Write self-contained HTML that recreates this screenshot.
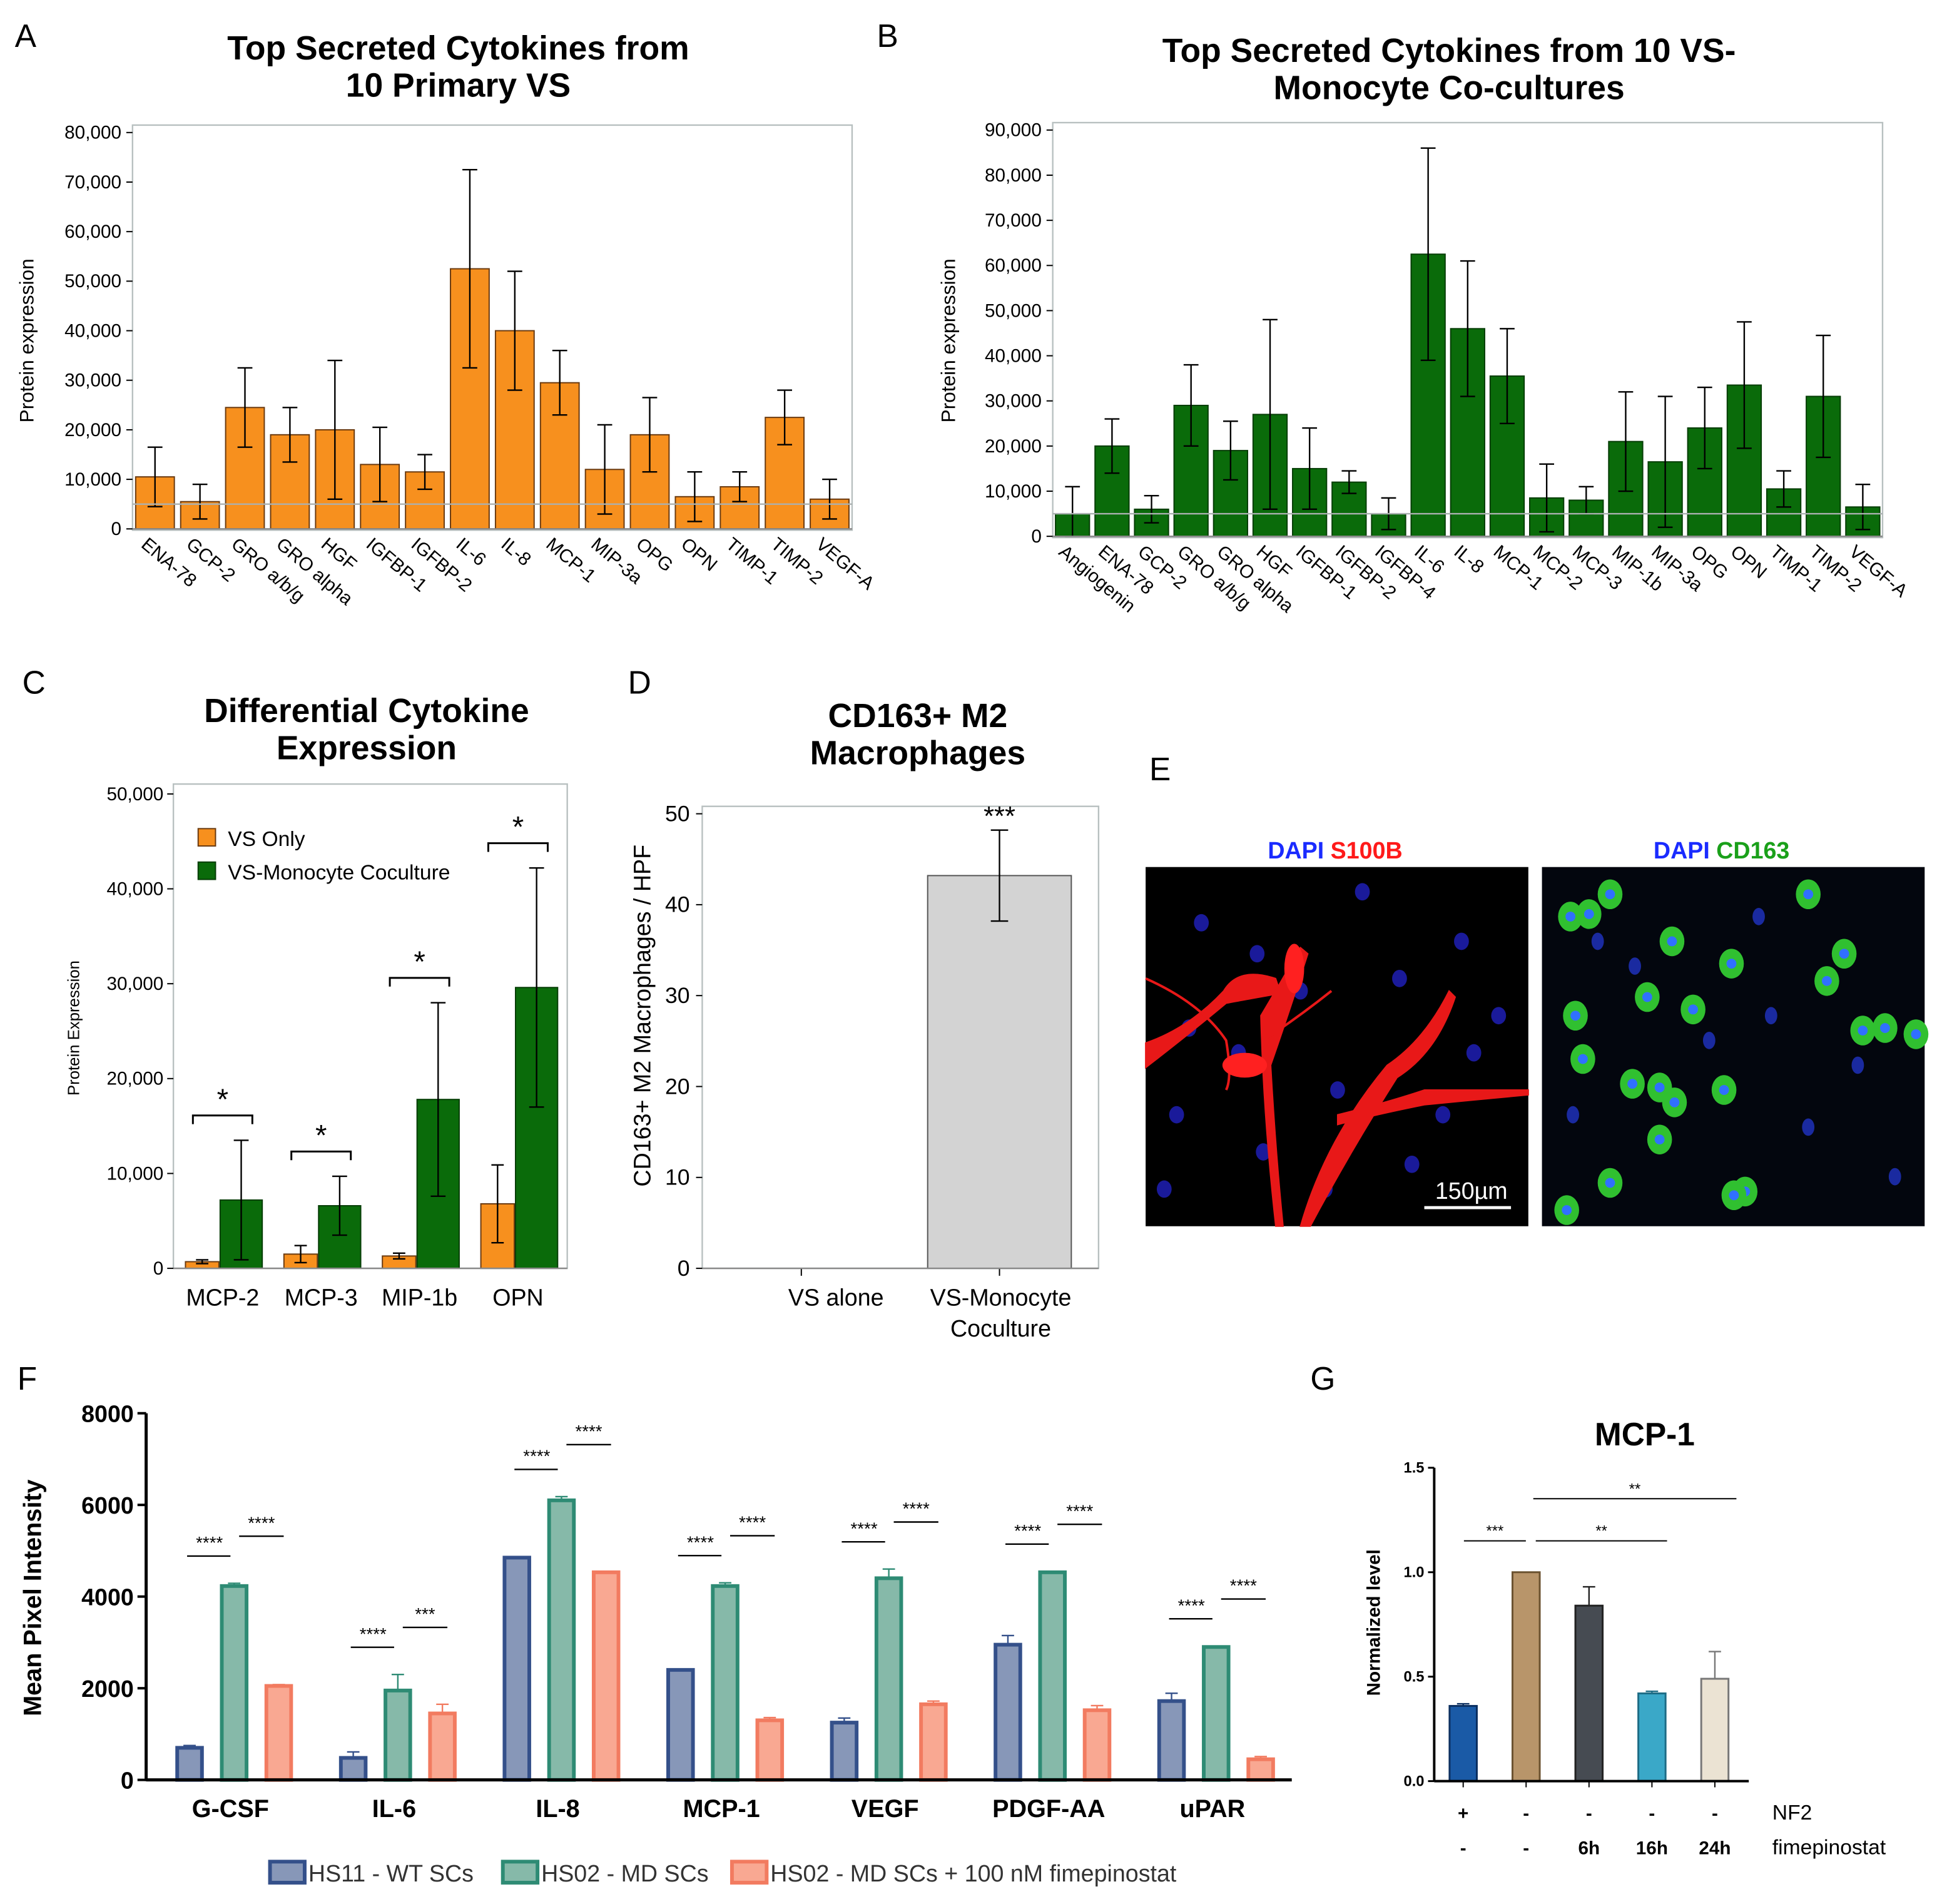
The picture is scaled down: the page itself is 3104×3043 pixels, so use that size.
<!DOCTYPE html>
<html><head><meta charset="utf-8">
<style>
html,body{margin:0;padding:0;background:#fff;}
svg{display:block;font-family:"Liberation Sans",Arial,sans-serif;}
</style></head>
<body>
<svg id="fig" width="3104" height="3043" viewBox="0 0 1568 1537.2" preserveAspectRatio="none" xmlns="http://www.w3.org/2000/svg"></svg>
<script>
// ---- Panel A data ----
const aCats = ["ENA-78","GCP-2","GRO a/b/g","GRO alpha","HGF","IGFBP-1","IGFBP-2","IL-6","IL-8","MCP-1","MIP-3a","OPG","OPN","TIMP-1","TIMP-2","VEGF-A"];
const aVals = [10500,5500,24500,19000,20000,13000,11500,52500,40000,29500,12000,19000,6500,8500,22500,6000];
const aErrTop = [16500,9000,32500,24500,34000,20500,15000,72500,52000,36000,21000,26500,11500,11500,28000,10000];
const aTicks = [0,10000,20000,30000,40000,50000,60000,70000,80000];
// ---- Panel B data ----
const bCats = ["Angiogenin","ENA-78","GCP-2","GRO a/b/g","GRO alpha","HGF","IGFBP-1","IGFBP-2","IGFBP-4","IL-6","IL-8","MCP-1","MCP-2","MCP-3","MIP-1b","MIP-3a","OPG","OPN","TIMP-1","TIMP-2","VEGF-A"];
const bVals = [5000,20000,6000,29000,19000,27000,15000,12000,5000,62500,46000,35500,8500,8000,21000,16500,24000,33500,10500,31000,6500];
const bErrTop = [11000,26000,9000,38000,25500,48000,24000,14500,8500,86000,61000,46000,16000,11000,32000,31000,33000,47500,14500,44500,11500];
const bTicks = [0,10000,20000,30000,40000,50000,60000,70000,80000,90000];
// ---- Panel C data ----
const cCats = ["MCP-2","MCP-3","MIP-1b","OPN"];
const cVS = [700,1500,1300,6800];
const cVSErr = [900,2400,1600,10900];
const cCo = [7200,6600,17800,29600];
const cCoErr = [13500,9700,28000,42200];
const cTicks = [0,10000,20000,30000,40000,50000];
// ---- Panel D data ----
const dCats = ["VS alone","VS-Monocyte Coculture"];
const dVals = [0,43.2];
const dErr = [0,5];
const dTicks = [0,10,20,30,40,50];
// ---- Panel F data ----
const fCats = ["G-CSF","IL-6","IL-8","MCP-1","VEGF","PDGF-AA","uPAR"];
const fWT = [700,480,4850,2400,1250,2950,1720];
const fWTErr = [50,130,20,20,100,200,170];
const fMD = [4230,1950,6100,4230,4400,4530,2900];
const fMDErr = [60,350,80,70,200,20,20];
const fFim = [2050,1450,4530,1300,1650,1520,450];
const fFimErr = [30,200,20,60,70,100,60];
const fTicks = [0,2000,4000,6000,8000];
// ---- Panel G data ----
const gVals = [0.36,1.0,0.84,0.42,0.49];
const gErr = [0.01,0,0.09,0.01,0.13];
const gNF2 = ["+","-","-","-","-"];
const gFim = ["-","-","6h","16h","24h"];
const gTicks = [0,0.5,1.0,1.5];

const NS="http://www.w3.org/2000/svg";
const svg=document.getElementById('fig');
function mk(tag,attrs,name,inter,parent){
  const el=document.createElementNS(NS,tag);
  for(const k in attrs) el.setAttribute(k,attrs[k]);
  
  
  (parent||svg).appendChild(el);return el;
}
function txt(x,y,s,size,name,extra){
  const a=Object.assign({x:x,y:y,'font-size':size,fill:'#000'},extra||{});
  const t=mk('text',a,name,false);t.textContent=s;return t;
}
function fmt(v){return v.toLocaleString('en-US');}
function errbar(x,y1,y2,w,name,col){
  col=col||'#000';
  mk('line',{x1:x,x2:x,y1:y1,y2:y2,stroke:col,'stroke-width':1.2},name,false);
  mk('line',{x1:x-w,x2:x+w,y1:y1,y2:y1,stroke:col,'stroke-width':1.2},name+'-cap-top',false);
  mk('line',{x1:x-w,x2:x+w,y1:y2,y2:y2,stroke:col,'stroke-width':1.2},name+'-cap-bottom',false);
}

function barPanel(p){
  const y=v=>p.y0-(v/p.max)*(p.y0-p.yTop);
  const band=(p.x1-p.x0)/p.cats.length;
  const x=i=>p.x0+band*(i+0.5);
  mk('rect',{x:p.x0,y:p.frameTop,width:p.x1-p.x0,height:p.y0-p.frameTop+1,fill:'none',stroke:'#b8c0c0','stroke-width':1.2},p.id+'-plot-frame',false);
  p.ticks.forEach(t=>{
    mk('line',{x1:p.x0-5,x2:p.x0,y1:y(t),y2:y(t),stroke:'#000','stroke-width':1},p.id+'-y-tick',false);
    txt(p.x0-9,y(t)+5,fmt(t),15,p.id+'-y-tick-label',{'text-anchor':'end'});
  });
  p.cats.forEach((c,i)=>{
    const bw=band*0.86;
    mk('rect',{x:x(i)-bw/2,y:y(p.vals[i]),width:bw,height:p.y0-y(p.vals[i]),fill:p.fill,stroke:p.stroke,'stroke-width':1},p.id+'-bar-'+c,false);
    const lo=Math.max(0,2*p.vals[i]-p.err[i]);
    errbar(x(i),y(p.err[i]),y(lo),6,p.id+'-error-bar-'+c);
    txt(x(i)-12,p.y0+14,c,15,p.id+'-x-label-'+c,{transform:`rotate(40 ${x(i)-12} ${p.y0+14})`});
  });
  mk('line',{x1:p.x0,x2:p.x1,y1:y(5000),y2:y(5000),stroke:'#aab0b0','stroke-width':1.2},p.id+'-threshold-line',false);
  mk('line',{x1:p.x0,x2:p.x1,y1:p.y0,y2:p.y0,stroke:'#888','stroke-width':1.2},p.id+'-x-axis',false);
  txt(p.ylabX,p.ylabY,'Protein expression',16,p.id+'-y-axis-title',{'text-anchor':'middle',transform:`rotate(-90 ${p.ylabX} ${p.ylabY})`});
}
const letters=[['A',12,38],['B',708,38],['C',18,560],['D',507,560],['E',928,630],['F',14,1122],['G',1058,1122]];
letters.forEach(l=>txt(l[1],l[2],l[0],26,'panel-letter-'+l[0]));
function title(lines,cx,y0,size,id){lines.forEach((s,i)=>txt(cx,y0+i*30,s,size,id+'-title-line'+(i+1),{'text-anchor':'middle','font-weight':'bold'}));}
title(['Top Secreted Cytokines from','10 Primary VS'],370,48,27,'a');
title(['Top Secreted Cytokines from 10 VS-','Monocyte Co-cultures'],1170,50,27,'b');
title(['Differential Cytokine','Expression'],296,583,27,'c');
title(['CD163+ M2','Macrophages'],741,587,27,'d');

barPanel({id:'a',cats:aCats,vals:aVals,err:aErrTop,ticks:aTicks,max:80000,x0:107,x1:688,y0:427,yTop:107,frameTop:101,fill:'#f7901e',stroke:'#6a3a10',ylabX:27,ylabY:275});
barPanel({id:'b',cats:bCats,vals:bVals,err:bErrTop,ticks:bTicks,max:90000,x0:850,x1:1520,y0:433,yTop:105,frameTop:99,fill:'#0a6b0a',stroke:'#063d06',ylabX:771,ylabY:275});

(function(){
  const x0=140,x1=458,y0=1024,yTop=641;
  const y=v=>y0-(v/50000)*(y0-yTop);
  const band=(x1-x0)/cCats.length;
  mk('rect',{x:x0,y:633,width:x1-x0,height:y0-633,fill:'none',stroke:'#b8c0c0','stroke-width':1.2},'c-plot-frame',false);
  cTicks.forEach(t=>{mk('line',{x1:x0-5,x2:x0,y1:y(t),y2:y(t),stroke:'#000'},'c-y-tick',false);
    txt(x0-8,y(t)+5,fmt(t),15,'c-y-tick-label',{'text-anchor':'end'});});
  cCats.forEach((c,i)=>{
    const cx=x0+band*(i+0.5);
    mk('rect',{x:cx-30,y:y(cVS[i]),width:27,height:y0-y(cVS[i]),fill:'#f7901e',stroke:'#6a3a10'},'c-bar-vs-'+c,false);
    errbar(cx-16.5,y(cVSErr[i]),y(Math.max(0,2*cVS[i]-cVSErr[i])),5,'c-error-vs-'+c);
    mk('rect',{x:cx-2,y:y(cCo[i]),width:34,height:y0-y(cCo[i]),fill:'#0a6b0a',stroke:'#063d06'},'c-bar-coculture-'+c,false);
    errbar(cx+15,y(cCoErr[i]),y(Math.max(0,2*cCo[i]-cCoErr[i])),6,'c-error-coculture-'+c);
    const by=y(cCoErr[i])-20;
    mk('path',{d:`M${cx-24} ${by+7}V${by}H${cx+24}V${by+7}`,fill:'none',stroke:'#000','stroke-width':1.5},'c-significance-bracket-'+c,false);
    txt(cx,by-5,'*',24,'c-significance-star-'+c,{'text-anchor':'middle'});
    txt(cx,y0+30,c,19,'c-x-label-'+c,{'text-anchor':'middle'});
  });
  mk('line',{x1:x0,x2:x1,y1:y0,y2:y0,stroke:'#888','stroke-width':1.2},'c-x-axis',false);
  mk('rect',{x:160,y:669,width:14,height:14,fill:'#f7901e',stroke:'#6a3a10'},'c-legend-swatch-vs',false);
  txt(184,683,'VS Only',17,'c-legend-label-vs');
  mk('rect',{x:160,y:696,width:14,height:14,fill:'#0a6b0a',stroke:'#063d06'},'c-legend-swatch-coculture',false);
  txt(184,710,'VS-Monocyte Coculture',17,'c-legend-label-coculture');
  txt(64,830,'Protein Expression',13,'c-y-axis-title',{'text-anchor':'middle',transform:'rotate(-90 64 830)'});
})();

(function(){
  const x0=567,x1=887,y0=1024,yTop=657;
  const y=v=>y0-(v/50)*(y0-yTop);
  mk('rect',{x:x0,y:651,width:x1-x0,height:y0-651,fill:'none',stroke:'#b8c0c0','stroke-width':1.2},'d-plot-frame',false);
  dTicks.forEach(t=>{mk('line',{x1:x0-5,x2:x0,y1:y(t),y2:y(t),stroke:'#000'},'d-y-tick',false);
    txt(x0-10,y(t)+6,String(t),18,'d-y-tick-label',{'text-anchor':'end'});});
  const band=(x1-x0)/2;
  dCats.forEach((c,i)=>{
    const cx=x0+band*(i+0.5);
    mk('line',{x1:cx,x2:cx,y1:y0,y2:y0+6,stroke:'#000'},'d-x-tick',false);
    if(dVals[i]>0){
      mk('rect',{x:cx-58,y:y(dVals[i]),width:116,height:y0-y(dVals[i]),fill:'#d3d3d3',stroke:'#555'},'d-bar-'+c,false);
      errbar(cx,y(dVals[i]+dErr[i]),y(dVals[i]-dErr[i]),7,'d-error-bar-'+c);
      txt(cx,y(dVals[i]+dErr[i])-4,'***',22,'d-significance-stars',{'text-anchor':'middle'});
    }
  });
  txt(675,1054,'VS alone',19,'d-x-label-vs-alone',{'text-anchor':'middle'});
  txt(808,1054,'VS-Monocyte',19,'d-x-label-coculture-1',{'text-anchor':'middle'});
  txt(808,1079,'Coculture',19,'d-x-label-coculture-2',{'text-anchor':'middle'});
  mk('line',{x1:x0,x2:x1,y1:y0,y2:y0,stroke:'#888','stroke-width':1.2},'d-x-axis',false);
  txt(525,820,'CD163+ M2 Macrophages / HPF',19,'d-y-axis-title',{'text-anchor':'middle',transform:'rotate(-90 525 820)'});
})();

(function(){
  const t1=txt(1078,693,'',19,'e-left-label',{'text-anchor':'middle','font-weight':'bold'});
  t1.innerHTML='<tspan fill="#1a2bff">DAPI </tspan><tspan fill="#ff1a1a">S100B</tspan>';
  const t2=txt(1390,693,'',19,'e-right-label',{'text-anchor':'middle','font-weight':'bold'});
  t2.innerHTML='<tspan fill="#1a2bff">DAPI </tspan><tspan fill="#1aa01a">CD163</tspan>';
  mk('rect',{x:925,y:700,width:309,height:290,fill:'#000'},'e-s100b-image',false);
  mk('rect',{x:1245,y:700,width:309,height:290,fill:'#03060e'},'e-cd163-image',false);
  const nuc=[[970,745],[1015,770],[960,830],[1000,850],[950,900],[1020,930],[1080,880],[1130,790],[1180,760],[1190,850],[1070,960],[1140,940],[940,960],[1210,820],[1100,720],[1165,900],[1050,800]];
  nuc.forEach(n=>mk('ellipse',{cx:n[0],cy:n[1],rx:6,ry:7,fill:'#1a1a9a'},'e-nucleus',false));
  const red=['M925 842 Q960 830 988 800 Q1000 780 1030 790 L1034 802 Q1000 808 990 810 Q960 835 925 862 Z',
    'M1030 990 Q1020 900 1018 820 Q1030 800 1050 765 L1056 770 Q1040 820 1026 860 Q1030 930 1036 990 Z',
    'M1050 990 Q1070 920 1120 860 Q1150 840 1170 800 L1175 805 Q1160 850 1128 870 Q1090 930 1058 990 Z',
    'M1080 900 Q1120 890 1150 880 Q1190 880 1234 880 L1234 884 Q1190 888 1150 892 Q1110 900 1080 908 Z',
    'M925 790 Q970 810 990 840 Q995 870 990 880',
    'M1020 840 Q1050 820 1075 800'];
  red.forEach((d,i)=>mk('path',{d:d,fill:i<4?'#e81818':'none',stroke:'#e81818','stroke-width':i<4?1:2},'e-s100b-cell',false));
  mk('ellipse',{cx:1005,cy:860,rx:18,ry:10,fill:'#ff2020'},'e-s100b-cell-body',false);
  mk('ellipse',{cx:1045,cy:782,rx:8,ry:20,fill:'#ff2020'},'e-s100b-cell-body',false);
  mk('line',{x1:1150,x2:1220,y1:975,y2:975,stroke:'#fff','stroke-width':2.5},'e-scale-bar',false);
  txt(1188,968,'150µm',19,'e-scale-label',{'text-anchor':'middle',fill:'#fff'});
  const gc=[[1268,740],[1283,738],[1300,722],[1350,760],[1398,778],[1272,820],[1278,855],[1318,875],[1340,878],[1352,890],[1330,805],[1367,815],[1392,880],[1340,920],[1409,962],[1460,722],[1489,770],[1475,792],[1504,832],[1522,830],[1547,835],[1300,955],[1265,977],[1400,965]];
  gc.forEach(g=>{mk('ellipse',{cx:g[0],cy:g[1],rx:10,ry:12,fill:'#30c030'},'e-cd163-cell',false);
    mk('circle',{cx:g[0],cy:g[1],r:4,fill:'#3070ff'},'e-cd163-nucleus',false);});
  [[1290,760],[1320,780],[1420,740],[1500,860],[1460,910],[1380,840],[1530,950],[1270,900],[1430,820]].forEach(n=>mk('ellipse',{cx:n[0],cy:n[1],rx:5,ry:7,fill:'#1a2aa0'},'e-nucleus',false));
})();

(function(){
  const x0=118,x1=1043,y0=1437,yTop=1141;
  const y=v=>y0-(v/8000)*(y0-yTop);
  const band=(x1-x0)/fCats.length;
  fTicks.forEach(t=>{mk('line',{x1:x0-7,x2:x0,y1:y(t),y2:y(t),stroke:'#000','stroke-width':2},'f-y-tick',false);
    txt(x0-10,y(t)+7,String(t),19,'f-y-tick-label',{'text-anchor':'end','font-weight':'bold'});});
  const series=[[fWT,fWTErr,'#8797b8','#34508a','wt'],[fMD,fMDErr,'#86b9a9','#2e8b74','md'],[fFim,fFimErr,'#f9a892','#f27b60','fimepinostat']];
  fCats.forEach((c,i)=>{
    const cx=x0+band*(i+0.5)+5;
    series.forEach((s,j)=>{
      const bx=cx+(j-1)*36;
      mk('rect',{x:bx-10,y:y(s[0][i]),width:20,height:y0-y(s[0][i]),fill:s[2],stroke:s[3],'stroke-width':3},'f-bar-'+s[4]+'-'+c,false);
      if(s[1][i]>0) errbar(bx,y(s[0][i]+s[1][i]),y(s[0][i]),5,'f-error-'+s[4]+'-'+c,s[3]);
    });
    const l1=y(Math.max(fWT[i]+fWTErr[i],fMD[i]+fMDErr[i]))-22;
    mk('line',{x1:cx-38,x2:cx-3,y1:l1,y2:l1,stroke:'#000','stroke-width':1.2},'f-sig-line-wt-md-'+c,false);
    txt(cx-20,l1-6,'****',14,'f-sig-label-wt-md-'+c,{'text-anchor':'middle'});
    const l2b=i==2?y(6100)-45:y(Math.max(fMD[i]+fMDErr[i],fFim[i]))-38;
    mk('line',{x1:cx+4,x2:cx+40,y1:l2b,y2:l2b,stroke:'#000','stroke-width':1.2},'f-sig-line-md-fim-'+c,false);
    txt(cx+22,l2b-6,i==1?'***':'****',14,'f-sig-label-md-fim-'+c,{'text-anchor':'middle'});
    txt(cx-3,y0+30,c,20,'f-x-label-'+c,{'text-anchor':'middle','font-weight':'bold'});
  });
  mk('line',{x1:x0,x2:x0,y1:yTop,y2:y0+1,stroke:'#000','stroke-width':2.5},'f-y-axis',false);
  mk('line',{x1:x0,x2:x1,y1:y0,y2:y0,stroke:'#000','stroke-width':2.5},'f-x-axis',false);
  txt(33,1290,'Mean Pixel Intensity',20,'f-y-axis-title',{'text-anchor':'middle','font-weight':'bold',transform:'rotate(-90 33 1290)'});
  const leg=[[216,'HS11 - WT SCs','#8797b8','#34508a','wt'],[404,'HS02 - MD SCs','#86b9a9','#2e8b74','md'],[589,'HS02 - MD SCs + 100 nM fimepinostat','#f9a892','#f27b60','fim']];
  leg.forEach(l=>{mk('rect',{x:l[0]+2,y:1503,width:28,height:17,fill:l[2],stroke:l[3],'stroke-width':3},'f-legend-swatch-'+l[4],false);
    txt(l[0]+33,1519,l[1],19,'f-legend-label-'+l[4],{fill:'#333'});});
})();

(function(){
  const x0=1158,x1=1412,y0=1438,yTop=1185;
  const y=v=>y0-(v/1.5)*(y0-yTop);
  const cols=[['#1a5aa6','#0b2f60'],['#b8956a','#6b5230'],['#464b52','#222'],['#3aa8c8','#1d6c85'],['#ebe3d3','#777']];
  gTicks.forEach(t=>{mk('line',{x1:x0-5,x2:x0,y1:y(t),y2:y(t),stroke:'#000','stroke-width':1.5},'g-y-tick',false);
    txt(x0-8,y(t)+4,t.toFixed(1),12,'g-y-tick-label',{'text-anchor':'end','font-weight':'bold'});});
  const band=(x1-x0)/gVals.length;
  gVals.forEach((v,i)=>{
    const cx=x0+band*(i+0.5)-2;
    mk('rect',{x:cx-11,y:y(v),width:22,height:y0-y(v),fill:cols[i][0],stroke:cols[i][1],'stroke-width':1.5},'g-bar-'+i,false);
    if(gErr[i]>0) errbar(cx,y(v+gErr[i]),y(v),5,'g-error-bar-'+i,cols[i][1]);
    mk('line',{x1:cx,x2:cx,y1:y0,y2:y0+5,stroke:'#000'},'g-x-tick',false);
    txt(cx,1469,gNF2[i],15,'g-nf2-label-'+i,{'text-anchor':'middle','font-weight':'bold'});
    txt(cx,1497,gFim[i],15,'g-fimepinostat-label-'+i,{'text-anchor':'middle','font-weight':'bold'});
  });
  txt(1431,1469,'NF2',17,'g-nf2-row-title');
  txt(1431,1497,'fimepinostat',17,'g-fimepinostat-row-title');
  mk('line',{x1:x0,x2:x0,y1:yTop,y2:y0,stroke:'#000','stroke-width':2},'g-y-axis',false);
  mk('line',{x1:x0,x2:x1,y1:y0,y2:y0,stroke:'#000','stroke-width':2},'g-x-axis',false);
  mk('line',{x1:1182,x2:1232,y1:1244,y2:1244,stroke:'#000'},'g-sig-line-1',false);
  txt(1207,1240,'***',12,'g-sig-label-1',{'text-anchor':'middle'});
  mk('line',{x1:1240,x2:1346,y1:1244,y2:1244,stroke:'#000'},'g-sig-line-2',false);
  txt(1293,1240,'**',12,'g-sig-label-2',{'text-anchor':'middle'});
  mk('line',{x1:1238,x2:1402,y1:1210,y2:1210,stroke:'#000'},'g-sig-line-3',false);
  txt(1320,1206,'**',12,'g-sig-label-3',{'text-anchor':'middle'});
  txt(1328,1167,'MCP-1',26,'g-title',{'text-anchor':'middle','font-weight':'bold'});
  txt(1114,1310,'Normalized level',15,'g-y-axis-title',{'text-anchor':'middle','font-weight':'bold',transform:'rotate(-90 1114 1310)'});
})();
</script>
</body></html>
